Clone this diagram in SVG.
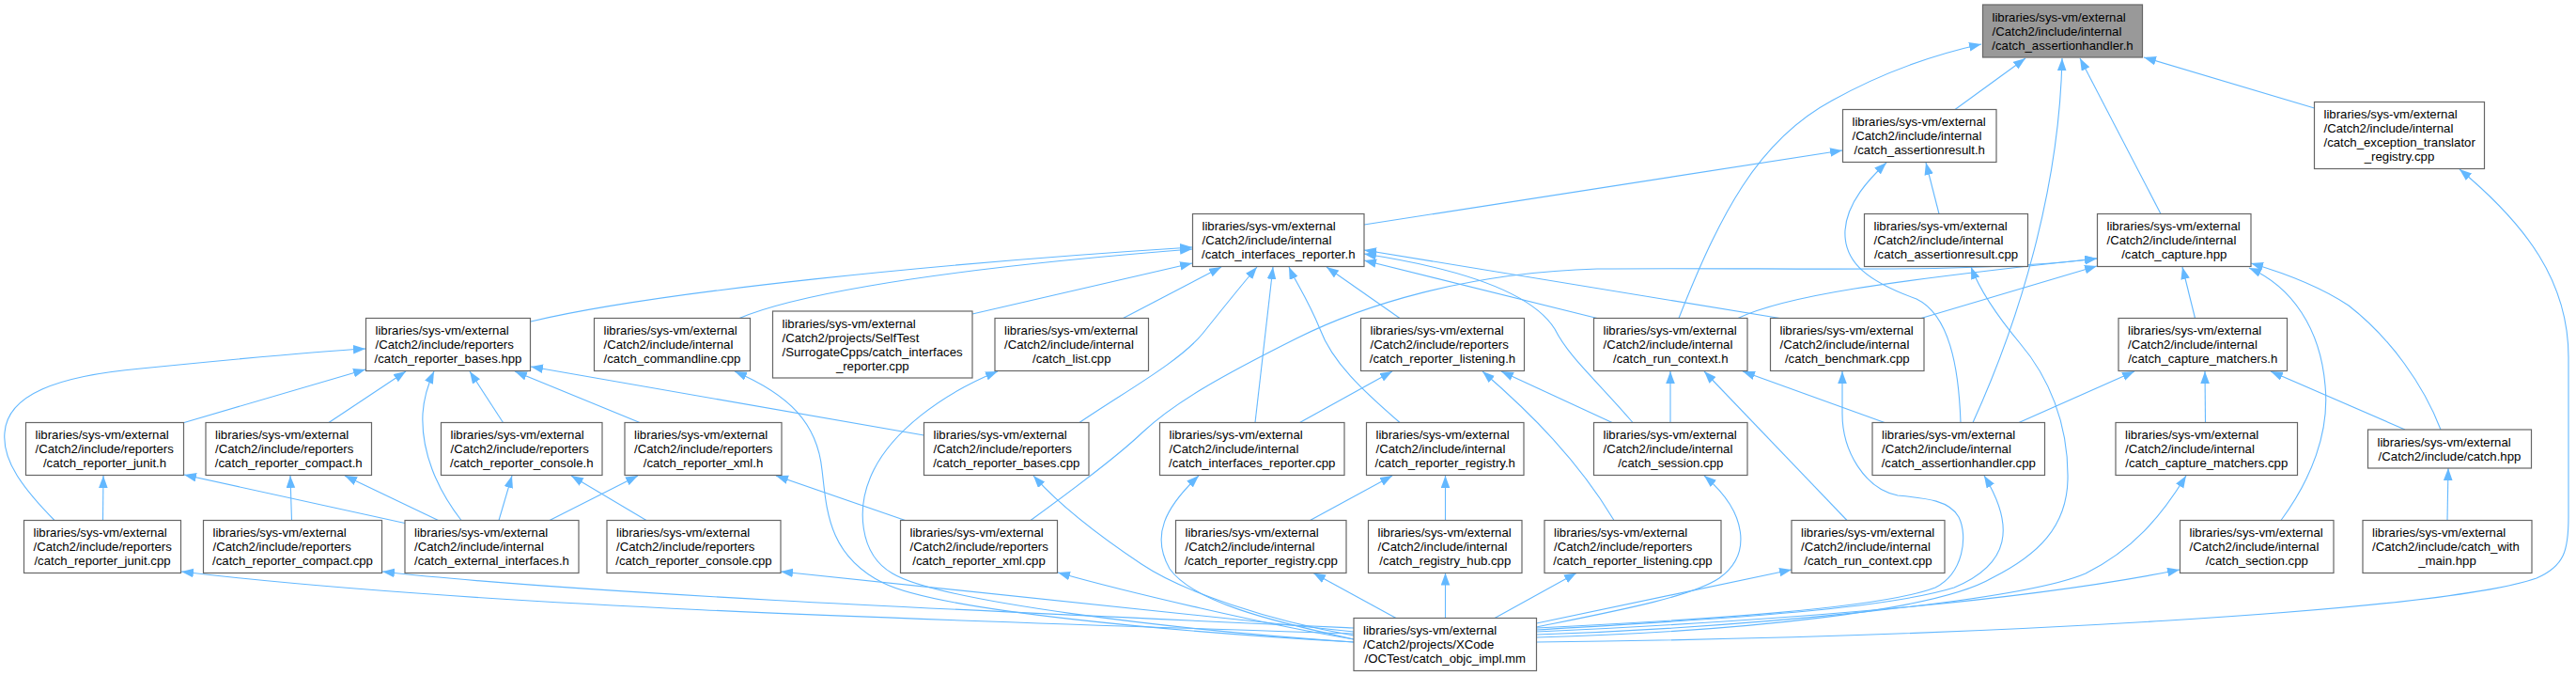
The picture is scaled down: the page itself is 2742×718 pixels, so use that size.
<svg xmlns="http://www.w3.org/2000/svg" width="2742" height="718" viewBox="0 0 2742 718">
<style>
.n rect{fill:#ffffff;stroke:#666666;stroke-width:1.2}
.n.root rect{fill:#999999}
text{font-family:"Liberation Sans",Arial,Helvetica,sans-serif;font-size:13.2px;fill:#000000}
text.c{text-anchor:middle}
.e path{fill:none;stroke:#63b8ff;stroke-width:1.1;marker-end:url(#a)}
</style>
<defs>
<marker id="a" markerWidth="14" markerHeight="10" refX="13" refY="4.8" orient="auto" markerUnits="userSpaceOnUse"><path d="M0,0 L13,4.8 L0,9.6 z" fill="#63b8ff"/></marker>
</defs>
<rect x="0" y="0" width="2742" height="718" fill="#ffffff"/>
<g id="edges" class="e">
<path d="M2081,116.5 L2156,62"/>
<path d="M1787,338.5 C1830,230 1870,150 1950,107 C1995,82 2050,60 2109,47"/>
<path d="M2100,449.5 C2150,340 2192,200 2195,62"/>
<path d="M2300,227.5 L2214,62"/>
<path d="M2463.5,115 L2282,61"/>
<path d="M1452,239 L1961,160"/>
<path d="M2064,227.5 L2050,173"/>
<path d="M2087,449.5 C2085,390 2075,335 2040,318 C1990,300 1962,280 1964,245 C1966,215 1990,190 2008,173"/>
<path d="M1635.5,683 C2100,678 2600,650 2700,615 C2730,602 2734,585 2734,550 L2734,380 C2734,300 2690,240 2618,180"/>
<path d="M565,342 C700,310 1000,280 1269,263"/>
<path d="M787,338.5 C830,320 950,290 1269,265"/>
<path d="M1035,334 L1269,280"/>
<path d="M1195.5,338.5 L1300,284"/>
<path d="M1149,449.5 C1200,415 1255,385 1280,355 C1300,330 1320,305 1338,284"/>
<path d="M1336,449.5 L1355,284"/>
<path d="M1490,449.5 C1450,415 1418,385 1405,350 C1392,318 1378,298 1372,284"/>
<path d="M1490,338.5 L1412,284"/>
<path d="M1700,338.5 L1452,277"/>
<path d="M1894.5,338.5 L1452,266"/>
<path d="M1738,449.5 C1700,405 1670,380 1655,350 C1630,310 1550,285 1452,270"/>
<path d="M1850,338.5 C1900,315 2000,300 2232,275"/>
<path d="M2045,338.5 L2232,283"/>
<path d="M1097,553.5 C1150,515 1190,485 1216,460 C1250,428 1300,400 1380,360 C1450,325 1560,290 1700,286 C1900,284 2100,292 2232,275"/>
<path d="M2336.5,338.5 L2323,284"/>
<path d="M2428,553.5 C2460,510 2480,460 2475,410 C2470,350 2440,305 2394,285"/>
<path d="M2598,457 C2580,410 2545,360 2500,325 C2470,305 2430,290 2396,280"/>
<path d="M2149,449.5 L2272,395"/>
<path d="M2347.5,449.5 L2347,395"/>
<path d="M2560,457 L2417,395"/>
<path d="M2605,553.5 L2606,498"/>
<path d="M1635.5,670 C1800,660 2000,650 2080,625 C2140,600 2145,560 2112,506"/>
<path d="M1635.5,675 C1850,668 2150,640 2220,610 C2270,585 2300,550 2327,506"/>
<path d="M1635.5,672 C1900,660 2150,640 2320,606"/>
<path d="M1635.5,663 L1907,606"/>
<path d="M1635.5,678 C1850,672 2060,650 2120,615 C2170,590 2200,560 2201,510 C2202,450 2180,400 2150,365 C2125,335 2108,310 2098,284"/>
<path d="M1635.5,668 C1800,660 2000,648 2060,625 C2090,610 2095,570 2085,550 C2075,532 2050,530 2020,527 C1985,520 1961,480 1961,440 L1961,395"/>
<path d="M1635.5,667 C1720,650 1800,635 1830,615 C1865,590 1860,545 1814,506"/>
<path d="M1591,657.5 L1678,609.5"/>
<path d="M1538.5,657.5 L1538.5,609.5"/>
<path d="M1486,657.5 L1398,609.5"/>
<path d="M1441,680 C1350,660 1270,640 1245,605 C1225,570 1240,540 1276,506"/>
<path d="M1441,676 C1350,660 1260,630 1215,600 C1170,570 1130,540 1100,506"/>
<path d="M1441,680 C1350,665 1200,630 1126,609"/>
<path d="M1441,683 C1250,670 1000,640 950,610 C915,590 910,540 930,500 C950,460 1000,420 1062,395"/>
<path d="M1441,683 C1250,672 1000,650 940,620 C880,590 880,540 875,500 C870,450 840,420 782,395"/>
<path d="M1441,672 L831,608"/>
<path d="M1441,668 C1000,648 600,630 407,608"/>
<path d="M1441,674 C1000,660 500,645 193,608"/>
<path d="M58,553.5 C25,520 2,490 5,460 C8,420 60,400 150,392 C250,382 330,374 389,371"/>
<path d="M196,449.5 L389,393"/>
<path d="M350,449.5 L432,395"/>
<path d="M491,553.5 C465,520 448,480 450,440 C451,425 455,410 462,395"/>
<path d="M535.5,449.5 L500,395"/>
<path d="M681,449.5 L548,395"/>
<path d="M983.5,463 L565,390"/>
<path d="M109.5,553.5 L110,506"/>
<path d="M431,556.5 L196,505"/>
<path d="M466.5,553.5 L367,506"/>
<path d="M531,553.5 L545,506"/>
<path d="M585,553.5 L679,506"/>
<path d="M310.5,553.5 L309,506"/>
<path d="M688,553.5 L608,506"/>
<path d="M963.5,553.5 L826,506"/>
<path d="M1383.5,449.5 L1482,395"/>
<path d="M1716,449.5 L1598,395"/>
<path d="M1718,553.5 C1680,490 1630,440 1578,395"/>
<path d="M1394.5,553.5 L1482,506"/>
<path d="M1538.5,553.5 L1538.5,506"/>
<path d="M1778,449.5 L1778,395"/>
<path d="M1966,553.5 L1814,395"/>
<path d="M2006,449.5 L1855,395"/>
</g>
<g id="n1" class="n root"><rect x="2110.5" y="5" width="170" height="56"/><text x="2120.5" y="22.7">libraries/sys-vm/external</text><text x="2120.5" y="37.7">/Catch2/include/internal</text><text class="c" x="2195.5" y="52.7">/catch_assertionhandler.h</text></g>
<g id="n2" class="n"><rect x="1961.5" y="116.5" width="163.5" height="56"/><text x="1971.5" y="134.2">libraries/sys-vm/external</text><text x="1971.5" y="149.2">/Catch2/include/internal</text><text class="c" x="2043.25" y="164.2">/catch_assertionresult.h</text></g>
<g id="n3" class="n"><rect x="2463.5" y="108.5" width="181" height="71"/><text x="2473.5" y="126.2">libraries/sys-vm/external</text><text x="2473.5" y="141.2">/Catch2/include/internal</text><text x="2473.5" y="156.2">/catch_exception_translator</text><text class="c" x="2554" y="171.2">_registry.cpp</text></g>
<g id="n4" class="n"><rect x="1269.5" y="227.5" width="182.5" height="56"/><text x="1279.5" y="245.2">libraries/sys-vm/external</text><text x="1279.5" y="260.2">/Catch2/include/internal</text><text class="c" x="1360.75" y="275.2">/catch_interfaces_reporter.h</text></g>
<g id="n5" class="n"><rect x="1984.5" y="227.5" width="174" height="56"/><text x="1994.5" y="245.2">libraries/sys-vm/external</text><text x="1994.5" y="260.2">/Catch2/include/internal</text><text class="c" x="2071.5" y="275.2">/catch_assertionresult.cpp</text></g>
<g id="n6" class="n"><rect x="2232.5" y="227.5" width="163.5" height="56"/><text x="2242.5" y="245.2">libraries/sys-vm/external</text><text x="2242.5" y="260.2">/Catch2/include/internal</text><text class="c" x="2314.25" y="275.2">/catch_capture.hpp</text></g>
<g id="n7" class="n"><rect x="389.5" y="338.5" width="175" height="56"/><text x="399.5" y="356.2">libraries/sys-vm/external</text><text x="399.5" y="371.2">/Catch2/include/reporters</text><text class="c" x="477" y="386.2">/catch_reporter_bases.hpp</text></g>
<g id="n8" class="n"><rect x="632.5" y="338.5" width="166" height="56"/><text x="642.5" y="356.2">libraries/sys-vm/external</text><text x="642.5" y="371.2">/Catch2/include/internal</text><text class="c" x="715.5" y="386.2">/catch_commandline.cpp</text></g>
<g id="n9" class="n"><rect x="822.5" y="331" width="212.5" height="71"/><text x="832.5" y="348.7">libraries/sys-vm/external</text><text x="832.5" y="363.7">/Catch2/projects/SelfTest</text><text x="832.5" y="378.7">/SurrogateCpps/catch_interfaces</text><text class="c" x="928.75" y="393.7">_reporter.cpp</text></g>
<g id="n10" class="n"><rect x="1059" y="338.5" width="163.5" height="56"/><text x="1069" y="356.2">libraries/sys-vm/external</text><text x="1069" y="371.2">/Catch2/include/internal</text><text class="c" x="1140.75" y="386.2">/catch_list.cpp</text></g>
<g id="n11" class="n"><rect x="1448.5" y="338.5" width="174" height="56"/><text x="1458.5" y="356.2">libraries/sys-vm/external</text><text x="1458.5" y="371.2">/Catch2/include/reporters</text><text class="c" x="1535.5" y="386.2">/catch_reporter_listening.h</text></g>
<g id="n12" class="n"><rect x="1696.5" y="338.5" width="163.5" height="56"/><text x="1706.5" y="356.2">libraries/sys-vm/external</text><text x="1706.5" y="371.2">/Catch2/include/internal</text><text class="c" x="1778.25" y="386.2">/catch_run_context.h</text></g>
<g id="n13" class="n"><rect x="1884.5" y="338.5" width="163.5" height="56"/><text x="1894.5" y="356.2">libraries/sys-vm/external</text><text x="1894.5" y="371.2">/Catch2/include/internal</text><text class="c" x="1966.25" y="386.2">/catch_benchmark.cpp</text></g>
<g id="n14" class="n"><rect x="2255" y="338.5" width="179.5" height="56"/><text x="2265" y="356.2">libraries/sys-vm/external</text><text x="2265" y="371.2">/Catch2/include/internal</text><text class="c" x="2344.75" y="386.2">/catch_capture_matchers.h</text></g>
<g id="n15" class="n"><rect x="27.5" y="449.5" width="168" height="56"/><text x="37.5" y="467.2">libraries/sys-vm/external</text><text x="37.5" y="482.2">/Catch2/include/reporters</text><text class="c" x="111.5" y="497.2">/catch_reporter_junit.h</text></g>
<g id="n16" class="n"><rect x="219" y="449.5" width="176.5" height="56"/><text x="229" y="467.2">libraries/sys-vm/external</text><text x="229" y="482.2">/Catch2/include/reporters</text><text class="c" x="307.25" y="497.2">/catch_reporter_compact.h</text></g>
<g id="n17" class="n"><rect x="469.5" y="449.5" width="171.5" height="56"/><text x="479.5" y="467.2">libraries/sys-vm/external</text><text x="479.5" y="482.2">/Catch2/include/reporters</text><text class="c" x="555.25" y="497.2">/catch_reporter_console.h</text></g>
<g id="n18" class="n"><rect x="665" y="449.5" width="167" height="56"/><text x="675" y="467.2">libraries/sys-vm/external</text><text x="675" y="482.2">/Catch2/include/reporters</text><text class="c" x="748.5" y="497.2">/catch_reporter_xml.h</text></g>
<g id="n19" class="n"><rect x="983.5" y="449.5" width="175.5" height="56"/><text x="993.5" y="467.2">libraries/sys-vm/external</text><text x="993.5" y="482.2">/Catch2/include/reporters</text><text class="c" x="1071.25" y="497.2">/catch_reporter_bases.cpp</text></g>
<g id="n20" class="n"><rect x="1234.5" y="449.5" width="196.5" height="56"/><text x="1244.5" y="467.2">libraries/sys-vm/external</text><text x="1244.5" y="482.2">/Catch2/include/internal</text><text class="c" x="1332.75" y="497.2">/catch_interfaces_reporter.cpp</text></g>
<g id="n21" class="n"><rect x="1454.5" y="449.5" width="167.5" height="56"/><text x="1464.5" y="467.2">libraries/sys-vm/external</text><text x="1464.5" y="482.2">/Catch2/include/internal</text><text class="c" x="1538.25" y="497.2">/catch_reporter_registry.h</text></g>
<g id="n22" class="n"><rect x="1696.5" y="449.5" width="163.5" height="56"/><text x="1706.5" y="467.2">libraries/sys-vm/external</text><text x="1706.5" y="482.2">/Catch2/include/internal</text><text class="c" x="1778.25" y="497.2">/catch_session.cpp</text></g>
<g id="n23" class="n"><rect x="1993" y="449.5" width="183.5" height="56"/><text x="2003" y="467.2">libraries/sys-vm/external</text><text x="2003" y="482.2">/Catch2/include/internal</text><text class="c" x="2084.75" y="497.2">/catch_assertionhandler.cpp</text></g>
<g id="n24" class="n"><rect x="2252" y="449.5" width="193.5" height="56"/><text x="2262" y="467.2">libraries/sys-vm/external</text><text x="2262" y="482.2">/Catch2/include/internal</text><text class="c" x="2348.75" y="497.2">/catch_capture_matchers.cpp</text></g>
<g id="n25" class="n"><rect x="2520.5" y="457" width="174" height="41"/><text x="2530.5" y="474.7">libraries/sys-vm/external</text><text class="c" x="2607.5" y="489.7">/Catch2/include/catch.hpp</text></g>
<g id="n26" class="n"><rect x="25.5" y="553.5" width="167" height="56"/><text x="35.5" y="571.2">libraries/sys-vm/external</text><text x="35.5" y="586.2">/Catch2/include/reporters</text><text class="c" x="109" y="601.2">/catch_reporter_junit.cpp</text></g>
<g id="n27" class="n"><rect x="216.5" y="553.5" width="190" height="56"/><text x="226.5" y="571.2">libraries/sys-vm/external</text><text x="226.5" y="586.2">/Catch2/include/reporters</text><text class="c" x="311.5" y="601.2">/catch_reporter_compact.cpp</text></g>
<g id="n28" class="n"><rect x="431" y="553.5" width="185" height="56"/><text x="441" y="571.2">libraries/sys-vm/external</text><text x="441" y="586.2">/Catch2/include/internal</text><text class="c" x="523.5" y="601.2">/catch_external_interfaces.h</text></g>
<g id="n29" class="n"><rect x="646" y="553.5" width="185" height="56"/><text x="656" y="571.2">libraries/sys-vm/external</text><text x="656" y="586.2">/Catch2/include/reporters</text><text class="c" x="738.5" y="601.2">/catch_reporter_console.cpp</text></g>
<g id="n30" class="n"><rect x="958.5" y="553.5" width="167" height="56"/><text x="968.5" y="571.2">libraries/sys-vm/external</text><text x="968.5" y="586.2">/Catch2/include/reporters</text><text class="c" x="1042" y="601.2">/catch_reporter_xml.cpp</text></g>
<g id="n31" class="n"><rect x="1251.5" y="553.5" width="181.5" height="56"/><text x="1261.5" y="571.2">libraries/sys-vm/external</text><text x="1261.5" y="586.2">/Catch2/include/internal</text><text class="c" x="1342.25" y="601.2">/catch_reporter_registry.cpp</text></g>
<g id="n32" class="n"><rect x="1456.5" y="553.5" width="163.5" height="56"/><text x="1466.5" y="571.2">libraries/sys-vm/external</text><text x="1466.5" y="586.2">/Catch2/include/internal</text><text class="c" x="1538.25" y="601.2">/catch_registry_hub.cpp</text></g>
<g id="n33" class="n"><rect x="1644" y="553.5" width="188" height="56"/><text x="1654" y="571.2">libraries/sys-vm/external</text><text x="1654" y="586.2">/Catch2/include/reporters</text><text class="c" x="1738" y="601.2">/catch_reporter_listening.cpp</text></g>
<g id="n34" class="n"><rect x="1907" y="553.5" width="163" height="56"/><text x="1917" y="571.2">libraries/sys-vm/external</text><text x="1917" y="586.2">/Catch2/include/internal</text><text class="c" x="1988.5" y="601.2">/catch_run_context.cpp</text></g>
<g id="n35" class="n"><rect x="2320.5" y="553.5" width="163.5" height="56"/><text x="2330.5" y="571.2">libraries/sys-vm/external</text><text x="2330.5" y="586.2">/Catch2/include/internal</text><text class="c" x="2402.25" y="601.2">/catch_section.cpp</text></g>
<g id="n36" class="n"><rect x="2515" y="553.5" width="180" height="56"/><text x="2525" y="571.2">libraries/sys-vm/external</text><text x="2525" y="586.2">/Catch2/include/catch_with</text><text class="c" x="2605" y="601.2">_main.hpp</text></g>
<g id="n37" class="n"><rect x="1441" y="657.5" width="194.5" height="56"/><text x="1451" y="675.2">libraries/sys-vm/external</text><text x="1451" y="690.2">/Catch2/projects/XCode</text><text class="c" x="1538.25" y="705.2">/OCTest/catch_objc_impl.mm</text></g>
</svg>
